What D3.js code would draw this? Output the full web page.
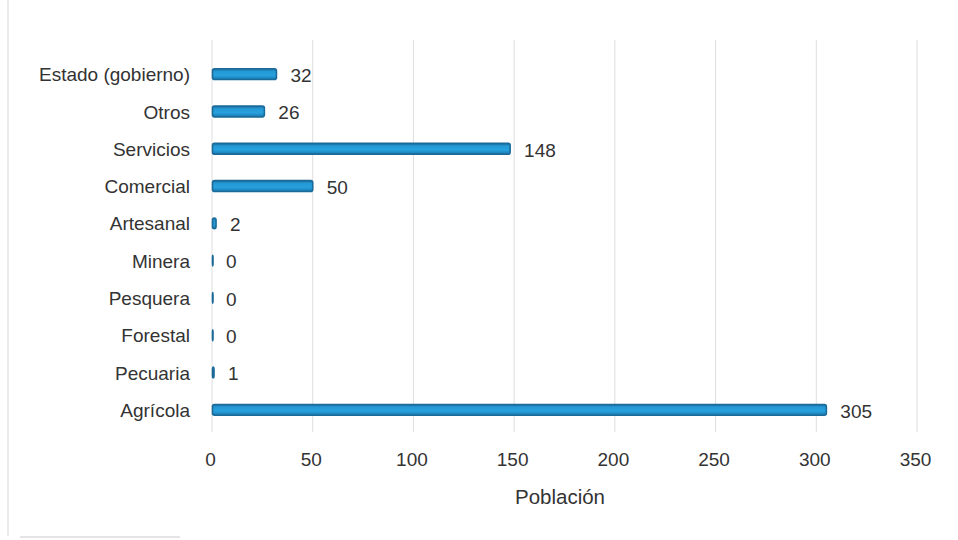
<!DOCTYPE html>
<html>
<head>
<meta charset="utf-8">
<script src="https://cdn.jsdelivr.net/npm/d3@7"></script>
<style>
  html, body { margin: 0; padding: 0; background: #fff; }
  svg { display: block; }
  text { font-family: "Liberation Sans", Arial, sans-serif; fill: #333; }
</style>
</head>
<body>
<svg id="chart" width="958" height="540"></svg>
<script>
// Población ocupada por sector de actividad
const categories = ["Estado (gobierno)", "Otros", "Servicios", "Comercial", "Artesanal",
                    "Minera", "Pesquera", "Forestal", "Pecuaria", "Agrícola"];
const values = [32, 26, 148, 50, 2, 0, 0, 0, 1, 305];
const xTicks = [0, 50, 100, 150, 200, 250, 300, 350];
const xTitle = "Población";

const svg = d3.select("#chart");
const FONT = "'Liberation Sans', Arial, sans-serif";

const x = d3.scaleLinear().domain([0, 350]).range([212, 917]);
const y = d3.scaleBand().domain(categories).range([55.5, 428.5]).paddingInner(0.71).paddingOuter(0.355);

// bar shading: darker rims, brighter centre
const defs = svg.append("defs");
const grad = defs.append("linearGradient").attr("id", "barGrad")
  .attr("x1", 0).attr("y1", 0).attr("x2", 0).attr("y2", 1);
grad.append("stop").attr("offset", "0%").attr("stop-color", "#1d6f9f");
grad.append("stop").attr("offset", "25%").attr("stop-color", "#2398d4");
grad.append("stop").attr("offset", "60%").attr("stop-color", "#27a2de");
grad.append("stop").attr("offset", "100%").attr("stop-color", "#1a79b3");

// faint page frame edges
svg.append("line").attr("x1", 8).attr("x2", 8).attr("y1", 0).attr("y2", 536)
  .attr("stroke", "#e4e4e4").attr("stroke-width", 1.5);
svg.append("line").attr("x1", 20).attr("x2", 180).attr("y1", 537).attr("y2", 537)
  .attr("stroke", "#dcdcdc").attr("stroke-width", 1.5);

// vertical gridlines
svg.append("g").selectAll("line").data(xTicks).join("line")
  .attr("x1", d => x(d)).attr("x2", d => x(d))
  .attr("y1", 40).attr("y2", 432)
  .attr("stroke", "#dedede").attr("stroke-width", 1);

// x axis tick labels
const xAxis = d3.axisBottom(x).tickValues(xTicks).tickSize(0).tickPadding(0);
const gx = svg.append("g").attr("transform", "translate(-2,452)").call(xAxis);
gx.select(".domain").remove();
gx.selectAll("text").attr("font-size", 19).attr("fill", "#333").attr("font-family", FONT);

// category labels
const yAxis = d3.axisLeft(y).tickSize(0).tickPadding(0);
const gy = svg.append("g").attr("transform", "translate(190,1)").call(yAxis);
gy.select(".domain").remove();
gy.selectAll("text").attr("font-size", 19).attr("fill", "#333").attr("font-family", FONT);

// bars
const bars = categories.map((c, i) => ({ c, v: values[i] }));
svg.append("g").selectAll("rect").data(bars).join("rect")
  .attr("x", x(0) + 0.5)
  .attr("y", d => y(d.c))
  .attr("width", d => Math.max(0.5, x(d.v) - x(0) - 0.5))
  .attr("height", y.bandwidth())
  .attr("rx", 2)
  .attr("fill", "url(#barGrad)")
  .attr("stroke", "#1b6a98")
  .attr("stroke-width", 1.6);

// value labels
svg.append("g").selectAll("text").data(bars).join("text")
  .attr("x", d => x(d.v) + 14)
  .attr("y", d => y(d.c) + y.bandwidth() / 2 + 1)
  .attr("dy", "0.36em")
  .attr("font-size", 19)
  .text(d => d.v);

// axis title
svg.append("text")
  .attr("x", 560).attr("y", 504)
  .attr("text-anchor", "middle")
  .attr("font-size", 20.5)
  .text(xTitle);
</script>
</body>
</html>
